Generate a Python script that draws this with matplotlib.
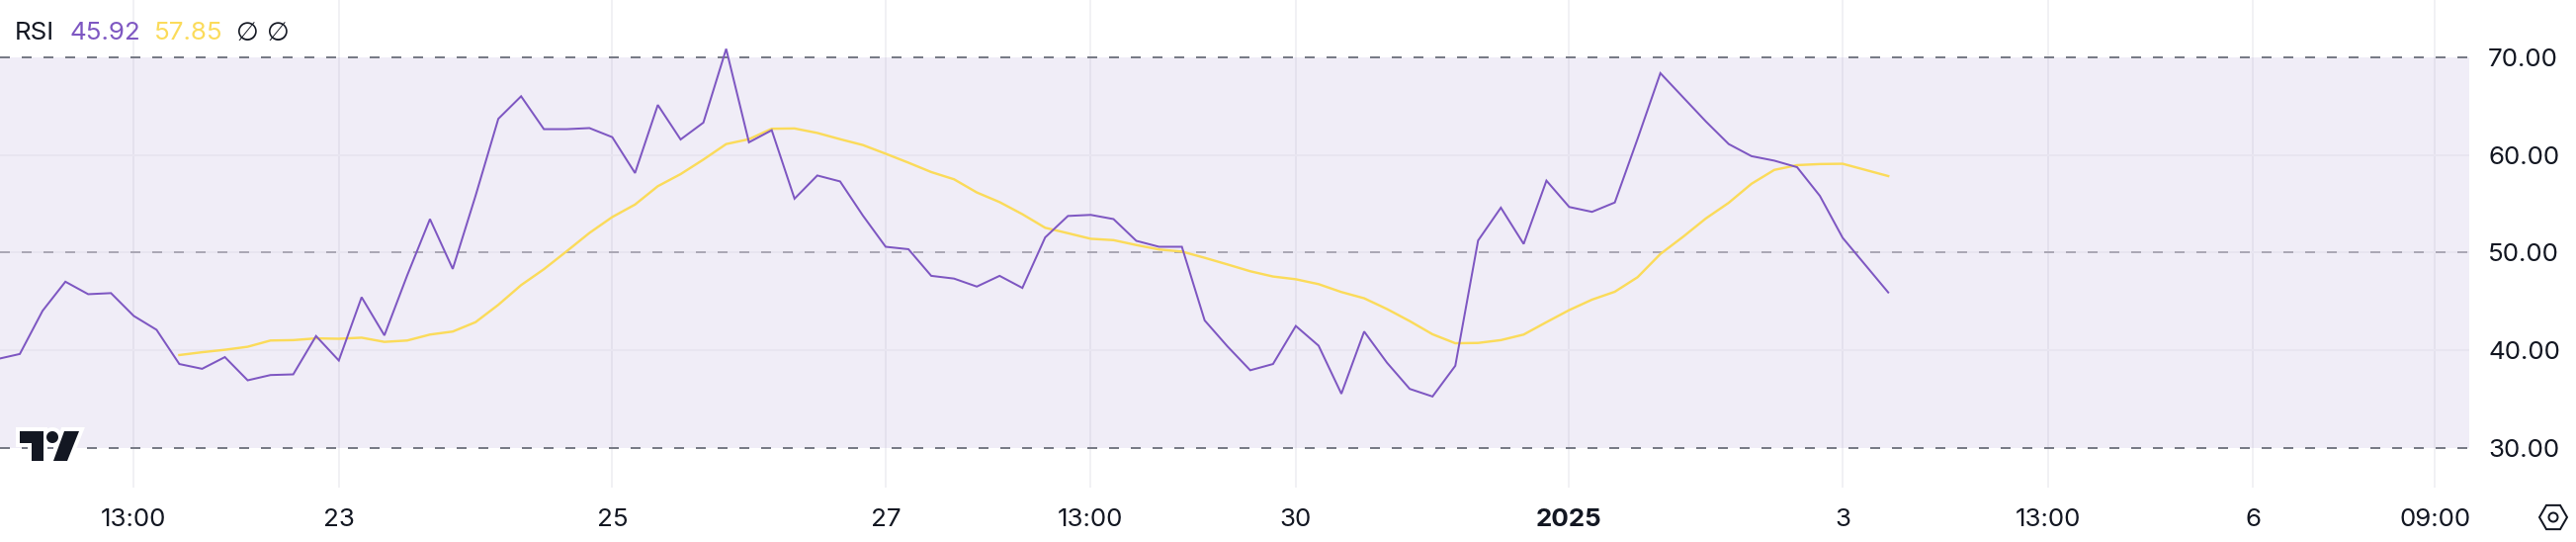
import matplotlib
matplotlib.use("Agg")
import matplotlib.pyplot as plt
import numpy as np
from matplotlib.patches import Polygon, Circle, RegularPolygon

W, H = 2606, 548
plt.rcParams['font.family'] = ['Inter', 'DejaVu Sans']

rsi = [39.08, 39.61, 44.04, 47.02, 45.74, 45.85, 43.51, 42.09, 38.58, 38.09, 39.29, 36.91,
       37.45, 37.52, 41.45, 38.94, 45.43, 41.52, 47.66, 53.44, 48.33, 55.82, 63.72, 66.03,
       62.66, 62.66, 62.77, 61.84, 58.16, 65.14, 61.60, 63.33, 70.89, 61.31, 62.55, 55.53,
       57.91, 57.30, 53.80, 50.60, 50.35, 47.62, 47.34, 46.52, 47.62, 46.38, 51.56, 53.76,
       53.87, 53.44, 51.21, 50.60, 50.60, 43.05, 40.39, 37.94, 38.58, 42.48, 40.46, 35.53,
       41.91, 38.72, 36.03, 35.25, 38.40, 51.24, 54.61, 50.89, 57.38, 54.68, 54.18, 55.14,
       61.67, 68.40, 65.92, 63.44, 61.13, 59.89, 59.43, 58.76, 55.82, 51.52, 48.72, 45.92]
ma_start = 8
rsi_ma = [39.50, 39.79, 40.04, 40.35, 40.99, 41.03, 41.21, 41.17, 41.28, 40.85, 40.99, 41.60,
          41.91, 42.87, 44.65, 46.67, 48.30, 50.14, 52.02, 53.65, 54.93, 56.81, 58.05, 59.54,
          61.13, 61.63, 62.70, 62.73, 62.27, 61.63, 61.03, 60.14, 59.22, 58.26, 57.52, 56.17,
          55.18, 53.94, 52.55, 51.99, 51.42, 51.28, 50.78, 50.32, 50.11, 49.47, 48.79, 48.09,
          47.55, 47.27, 46.77, 45.96, 45.32, 44.22, 42.98, 41.63, 40.71, 40.74, 41.03, 41.60,
          42.87, 44.11, 45.18, 45.99, 47.48, 49.86, 51.63, 53.51, 55.11, 57.06, 58.48, 58.97,
          59.08, 59.11, 58.48, 57.85]
x_ticks = [6, 15, 27, 39, 48, 57, 69, 81, 90, 99, 107]
x_labels = ['13:00', '23', '25', '27', '13:00', '30', '2025', '3', '13:00', '6', '09:00']
y_ticks = [30, 40, 50, 60, 70]
y_labels = ['30.00', '40.00', '50.00', '60.00', '70.00']

PURPLE = '#7E57C2'
YELLOW = '#FBDB5A'
DARK = '#131722'
px = 0.72  # points per pixel at dpi 100

fig = plt.figure(figsize=(W / 100, H / 100), dpi=100, facecolor='white')
ax = fig.add_axes([0, (H - 493) / H, 2498 / W, 493 / H], facecolor='white')
ax.set_xlim(0.13, 108.5)
ax.set_ylim(25.91, 75.90)
for s in ax.spines.values():
    s.set_visible(False)

ax.set_xticks(x_ticks)
ax.set_xticklabels(x_labels, fontsize=18.7, color=DARK)
for lab, txt in zip(ax.get_xticklabels(), x_labels):
    if txt == '2025':
        lab.set_fontweight('bold')
ax.yaxis.tick_right()
ax.set_yticks(y_ticks)
ax.set_yticklabels(y_labels, fontsize=18.7, color=DARK)
ax.tick_params(axis='x', length=0, pad=15.4)
ax.tick_params(axis='y', length=0, pad=13.7)
ax.grid(axis='x', color='#F1F1F4', lw=2 * px, zorder=0)
ax.set_axisbelow(True)

ax.axhspan(30, 70, color='#7558B8', alpha=0.1, lw=0, zorder=1)
for v in (40, 50, 60):
    ax.axhline(v, color='#E8E5F0', lw=2 * px, zorder=2)
dash = (0, (10 / 2, 12 / 2))
ax.axhline(70, color='#787B86', lw=2 * px, ls=dash, zorder=3)
ax.axhline(30, color='#787B86', lw=2 * px, ls=dash, zorder=3)
ax.axhline(50, color='#ABA8B5', lw=2 * px, ls=dash, zorder=3)

xr = np.arange(len(rsi))
xm = np.arange(ma_start, ma_start + len(rsi_ma))
ax.plot(xm, rsi_ma, color=YELLOW, lw=2.4 * px, zorder=4)
ax.plot(xr, rsi, color=PURPLE, lw=2 * px, zorder=5, solid_joinstyle='miter')


def P(x, y):
    return (x / W, 1 - y / H)


def legend(x, s, c, **kw):
    fig.text(x / W, 1 - 34 / H, s, color=c, fontsize=18.7, va='center', ha='left', **kw)


legend(15, 'RSI', DARK)
legend(71, '45.92', PURPLE)
legend(156, '57.85', YELLOW)
legend(239, '∅', DARK, family='DejaVu Sans')
legend(270, '∅', DARK, family='DejaVu Sans')

# logo
tee = [(20, 436), (44, 436), (44, 466), (32, 466), (32, 448), (20, 448)]
slash = [(65, 436), (80, 436), (68, 466), (54, 466)]
tf = fig.transFigure
for kw in ({'fc': 'white', 'ec': 'white', 'lw': 8 * px, 'joinstyle': 'miter'},
           {'fc': DARK, 'ec': 'none'}):
    fig.add_artist(Polygon([P(*p) for p in tee], transform=tf, **kw))
    fig.add_artist(Polygon([P(*p) for p in slash], transform=tf, **kw))
    cx, cy = 53, 442
    fig.add_artist(RegularPolygon((cx, H - cy), 40, radius=6, transform=None,
                                  **{k: v for k, v in kw.items() if k != 'joinstyle'}))

# settings hexagon
fig.add_artist(RegularPolygon((2583, H - 523), 6, radius=14, orientation=np.pi / 6,
                              transform=None, fc='none', ec=DARK, lw=2 * px))
fig.add_artist(Circle((2583, H - 523), 4.5, transform=None, fc='none', ec=DARK, lw=2 * px))

fig.savefig('out.png', dpi=100, facecolor='white')
